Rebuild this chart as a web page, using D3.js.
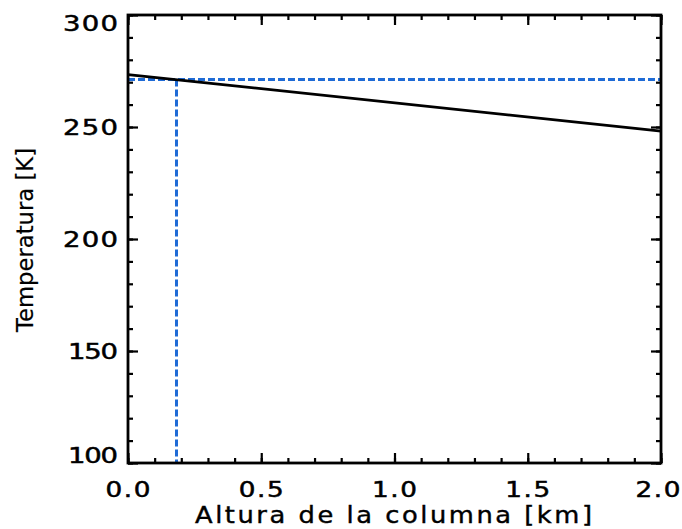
<!DOCTYPE html>
<html>
<head>
<meta charset="utf-8">
<script src="https://cdn.jsdelivr.net/npm/d3@7"></script>
<style>
  html, body { margin: 0; padding: 0; background: #fff; }
  svg { display: block; }
  text { font-family: "DejaVu Sans", sans-serif; fill: #000; }
</style>
</head>
<body>
<svg id="chart" width="682" height="529"></svg>
<script>
// Temperature profile along the column
const heights = [0.0, 2.0];          // km
const temps = [273.4, 248.2];        // K

// Reference level (dashed guide lines)
const refHeight = [0.182];
const refTemp = [271.2];

// Axis ticks
const xMajor = [0.0, 0.5, 1.0, 1.5, 2.0];
const xTickLabels = ["0.0", "0.5", "1.0", "1.5", "2.0"];
const yMajor = [100, 150, 200, 250, 300];
const yTickLabels = ["100", "150", "200", "250", "300"];

const xTitle = "Altura de la columna [km]";
const yTitle = "Temperatura [K]";

const W = 682, H = 529;
const m = { left: 128, right: 661, top: 15, bottom: 463 };

const svg = d3.select("#chart");

const x = d3.scaleLinear().domain([0, 2]).range([m.left, m.right]);
const y = d3.scaleLinear().domain([100, 300]).range([m.bottom, m.top]);

const xMinor = d3.range(0, 2.0001, 0.1).map(v => +v.toFixed(2));
const yMinor = d3.range(100, 300.001, 10);

const majorLen = 10, minorLen = 5;
const tickStroke = 2.2;

// Inward ticks on all four sides
function drawTicks(axisGen, transform) {
  const g = svg.append("g").attr("transform", transform).call(axisGen);
  g.select(".domain").remove();
  g.selectAll("line").attr("stroke", "#000").attr("stroke-width", tickStroke);
  g.selectAll("text").remove();
  return g;
}
// bottom
drawTicks(d3.axisTop(x).tickValues(xMinor).tickSize(minorLen), `translate(0,${m.bottom})`);
drawTicks(d3.axisTop(x).tickValues(xMajor).tickSize(majorLen), `translate(0,${m.bottom})`);
// top
drawTicks(d3.axisBottom(x).tickValues(xMinor).tickSize(minorLen), `translate(0,${m.top})`);
drawTicks(d3.axisBottom(x).tickValues(xMajor).tickSize(majorLen), `translate(0,${m.top})`);
// left
drawTicks(d3.axisRight(y).tickValues(yMinor).tickSize(minorLen), `translate(${m.left},0)`);
drawTicks(d3.axisRight(y).tickValues(yMajor).tickSize(majorLen), `translate(${m.left},0)`);
// right
drawTicks(d3.axisLeft(y).tickValues(yMinor).tickSize(minorLen), `translate(${m.right},0)`);
drawTicks(d3.axisLeft(y).tickValues(yMajor).tickSize(majorLen), `translate(${m.right},0)`);

// Dashed reference guides
const blue = "#1f6bd6";
svg.append("line")
  .attr("x1", x(0)).attr("x2", x(2))
  .attr("y1", y(refTemp[0])).attr("y2", y(refTemp[0]))
  .attr("stroke", blue).attr("stroke-width", 3)
  .attr("stroke-dasharray", "7,3");
svg.append("line")
  .attr("x1", x(refHeight[0])).attr("x2", x(refHeight[0]))
  .attr("y1", y(refTemp[0])).attr("y2", y(100))
  .attr("stroke", blue).attr("stroke-width", 3)
  .attr("stroke-dasharray", "7,3");

// Temperature line
svg.append("path")
  .datum(heights.map((h, i) => [h, temps[i]]))
  .attr("fill", "none")
  .attr("stroke", "#000")
  .attr("stroke-width", 2.8)
  .attr("d", d3.line().x(d => x(d[0])).y(d => y(d[1])));

// Plot frame
svg.append("rect")
  .attr("x", m.left).attr("y", m.top)
  .attr("width", m.right - m.left).attr("height", m.bottom - m.top)
  .attr("fill", "none").attr("stroke", "#000").attr("stroke-width", 2.8);

// Wide, letter-spaced label: glyphs widened by sx, then spread to `len` px
function wideText(parent, s, px, py, anchor, size, sx, len, weight) {
  return parent.append("text")
    .attr("transform", `translate(${px},${py}) scale(${sx},1)`)
    .attr("text-anchor", anchor)
    .attr("font-size", size)
    .attr("stroke", "#000").attr("stroke-width", weight)
    .attr("textLength", len / sx)
    .attr("lengthAdjust", "spacing")
    .text(s);
}

// Tick labels (kept inside the canvas / plot extent)
const yLab = svg.append("g");
yMajor.forEach((v, i) => {
  const cy = Math.max(m.top + 8, Math.min(m.bottom - 8, y(v)));
  const s = yTickLabels[i];
  wideText(yLab, s, 118, cy + 8, "end", 22, 1.25, s.startsWith("1") ? 50 : 55, 0.5);
});

const xLab = svg.append("g");
xMajor.forEach((v, i) => {
  const cx = Math.min(W - 24, x(v));
  wideText(xLab, xTickLabels[i], cx, 497, "middle", 21, 1.25, 45, 0.5);
});

// Axis titles
wideText(svg, xTitle, 393.5, 523, "middle", 23, 1.12, 397, 0.4);

svg.append("text")
  .attr("transform", "translate(33,240) rotate(-90)")
  .attr("text-anchor", "middle")
  .attr("font-size", 23)
  .attr("stroke", "#000").attr("stroke-width", 0.2)
  .attr("textLength", 184)
  .attr("lengthAdjust", "spacingAndGlyphs")
  .text(yTitle);
</script>
</body>
</html>
